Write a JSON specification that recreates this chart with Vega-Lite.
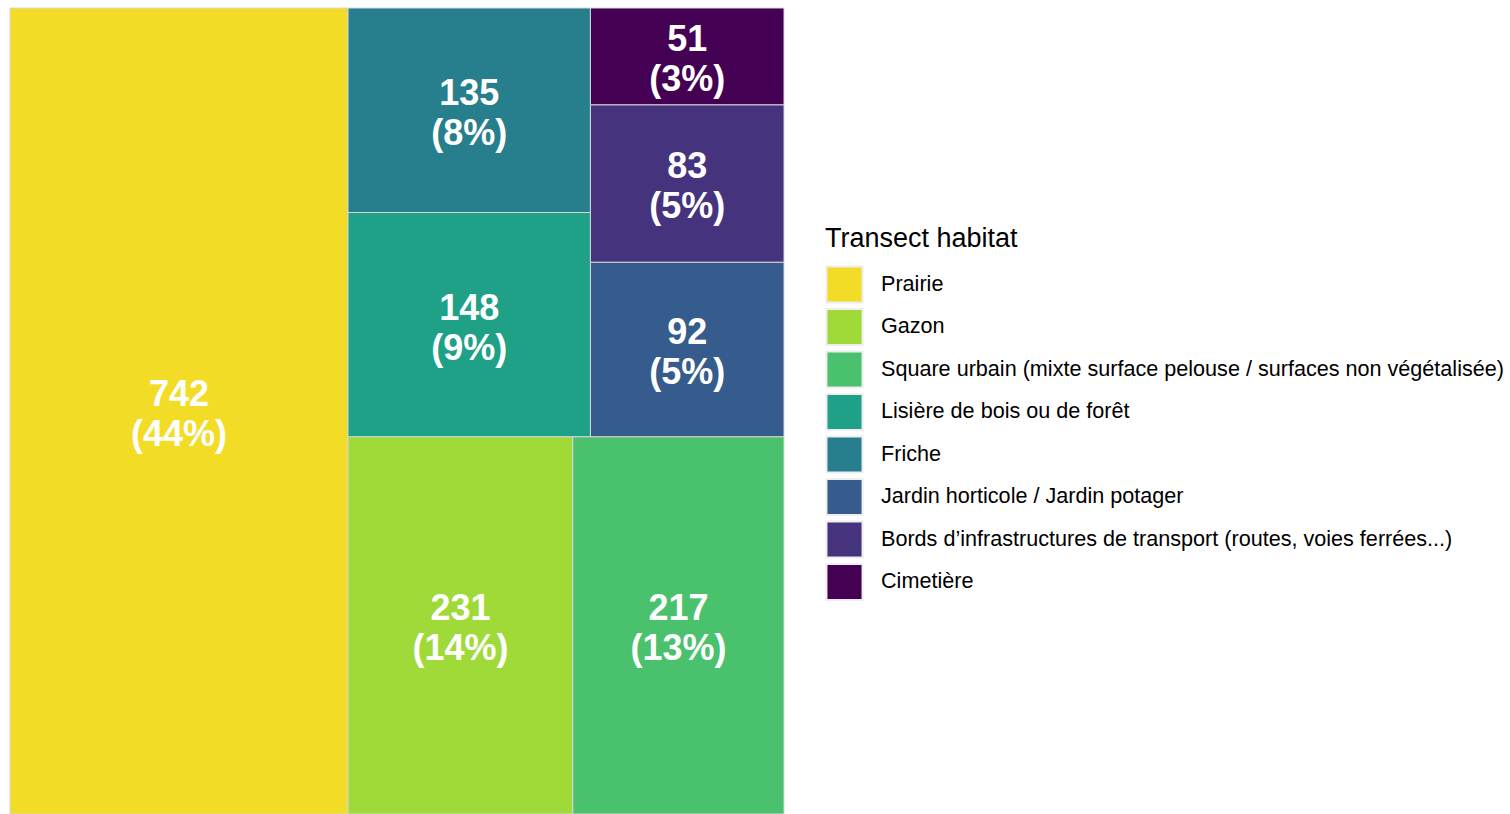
{
  "$schema": "https://vega.github.io/schema/vega-lite/v6.json",
  "width": 774,
  "height": 806,
  "autosize": {"type": "none"},
  "padding": {"left": 10, "top": 8, "right": 726, "bottom": 0},
  "background": "white",
  "config": {"view": {"stroke": null}, "font": "Liberation Sans"},
  "data": {
    "values": [
      {"habitat": "Prairie", "n": 742, "pct": 44, "x0": 0, "x1": 742, "y0": 0, "y1": 1},
      {"habitat": "Gazon", "n": 231, "pct": 14, "x0": 742, "x1": 1235.45, "y0": 0, "y1": 0.46813},
      {"habitat": "Square urbain (mixte surface pelouse / surfaces non végétalisée)", "n": 217, "pct": 13, "x0": 1235.45, "x1": 1699, "y0": 0, "y1": 0.46813},
      {"habitat": "Lisière de bois ou de forêt", "n": 148, "pct": 9, "x0": 742, "x1": 1274.08, "y0": 0.46813, "y1": 0.74628},
      {"habitat": "Friche", "n": 135, "pct": 8, "x0": 742, "x1": 1274.08, "y0": 0.74628, "y1": 1},
      {"habitat": "Jardin horticole / Jardin potager", "n": 92, "pct": 5, "x0": 1274.08, "x1": 1699, "y0": 0.46813, "y1": 0.68465},
      {"habitat": "Bords d’infrastructures de transport (routes, voies ferrées...)", "n": 83, "pct": 5, "x0": 1274.08, "x1": 1699, "y0": 0.68465, "y1": 0.87998},
      {"habitat": "Cimetière", "n": 51, "pct": 3, "x0": 1274.08, "x1": 1699, "y0": 0.87998, "y1": 1}
    ]
  },
  "transform": [
    {"calculate": "(datum.x0 + datum.x1) / 2", "as": "mx"},
    {"calculate": "(datum.y0 + datum.y1) / 2", "as": "my"},
    {"calculate": "[format(datum.n, 'd'), '(' + datum.pct + '%)']", "as": "label"}
  ],
  "layer": [
    {
      "mark": {"type": "rect", "stroke": "#d6d6d6", "strokeWidth": 1},
      "encoding": {
        "x": {"field": "x0", "type": "quantitative", "scale": {"domain": [0, 1699], "nice": false, "zero": false}, "axis": null},
        "x2": {"field": "x1"},
        "y": {"field": "y0", "type": "quantitative", "scale": {"domain": [0, 1], "nice": false, "zero": false}, "axis": null},
        "y2": {"field": "y1"},
        "color": {
          "field": "habitat",
          "type": "nominal",
          "scale": {
            "domain": [
              "Prairie",
              "Gazon",
              "Square urbain (mixte surface pelouse / surfaces non végétalisée)",
              "Lisière de bois ou de forêt",
              "Friche",
              "Jardin horticole / Jardin potager",
              "Bords d’infrastructures de transport (routes, voies ferrées...)",
              "Cimetière"
            ],
            "range": ["#F2DC25", "#A0DA39", "#4AC16D", "#1FA187", "#277F8E", "#365C8D", "#46337E", "#440154"]
          },
          "legend": {
            "title": "Transect habitat",
            "orient": "none",
            "legendX": 815,
            "legendY": 218,
            "titleFontSize": 27,
            "titleFontWeight": "normal",
            "titleColor": "black",
            "titlePadding": 12,
            "titleLimit": 800,
            "labelFontSize": 21.6,
            "labelColor": "black",
            "labelOffset": 17,
            "symbolType": "square",
            "symbolSize": 1300,
            "symbolStrokeColor": "#eeeeee",
            "symbolStrokeWidth": 2,
            "symbolOpacity": 1,
            "rowPadding": -2.5,
            "labelLimit": 800
          }
        }
      }
    },
    {
      "mark": {"type": "text", "color": "white", "fontSize": 36, "fontWeight": "bold", "lineHeight": 40, "align": "center", "baseline": "middle", "dy": -16},
      "encoding": {
        "x": {"field": "mx", "type": "quantitative"},
        "y": {"field": "my", "type": "quantitative"},
        "text": {"field": "label"}
      }
    }
  ]
}
